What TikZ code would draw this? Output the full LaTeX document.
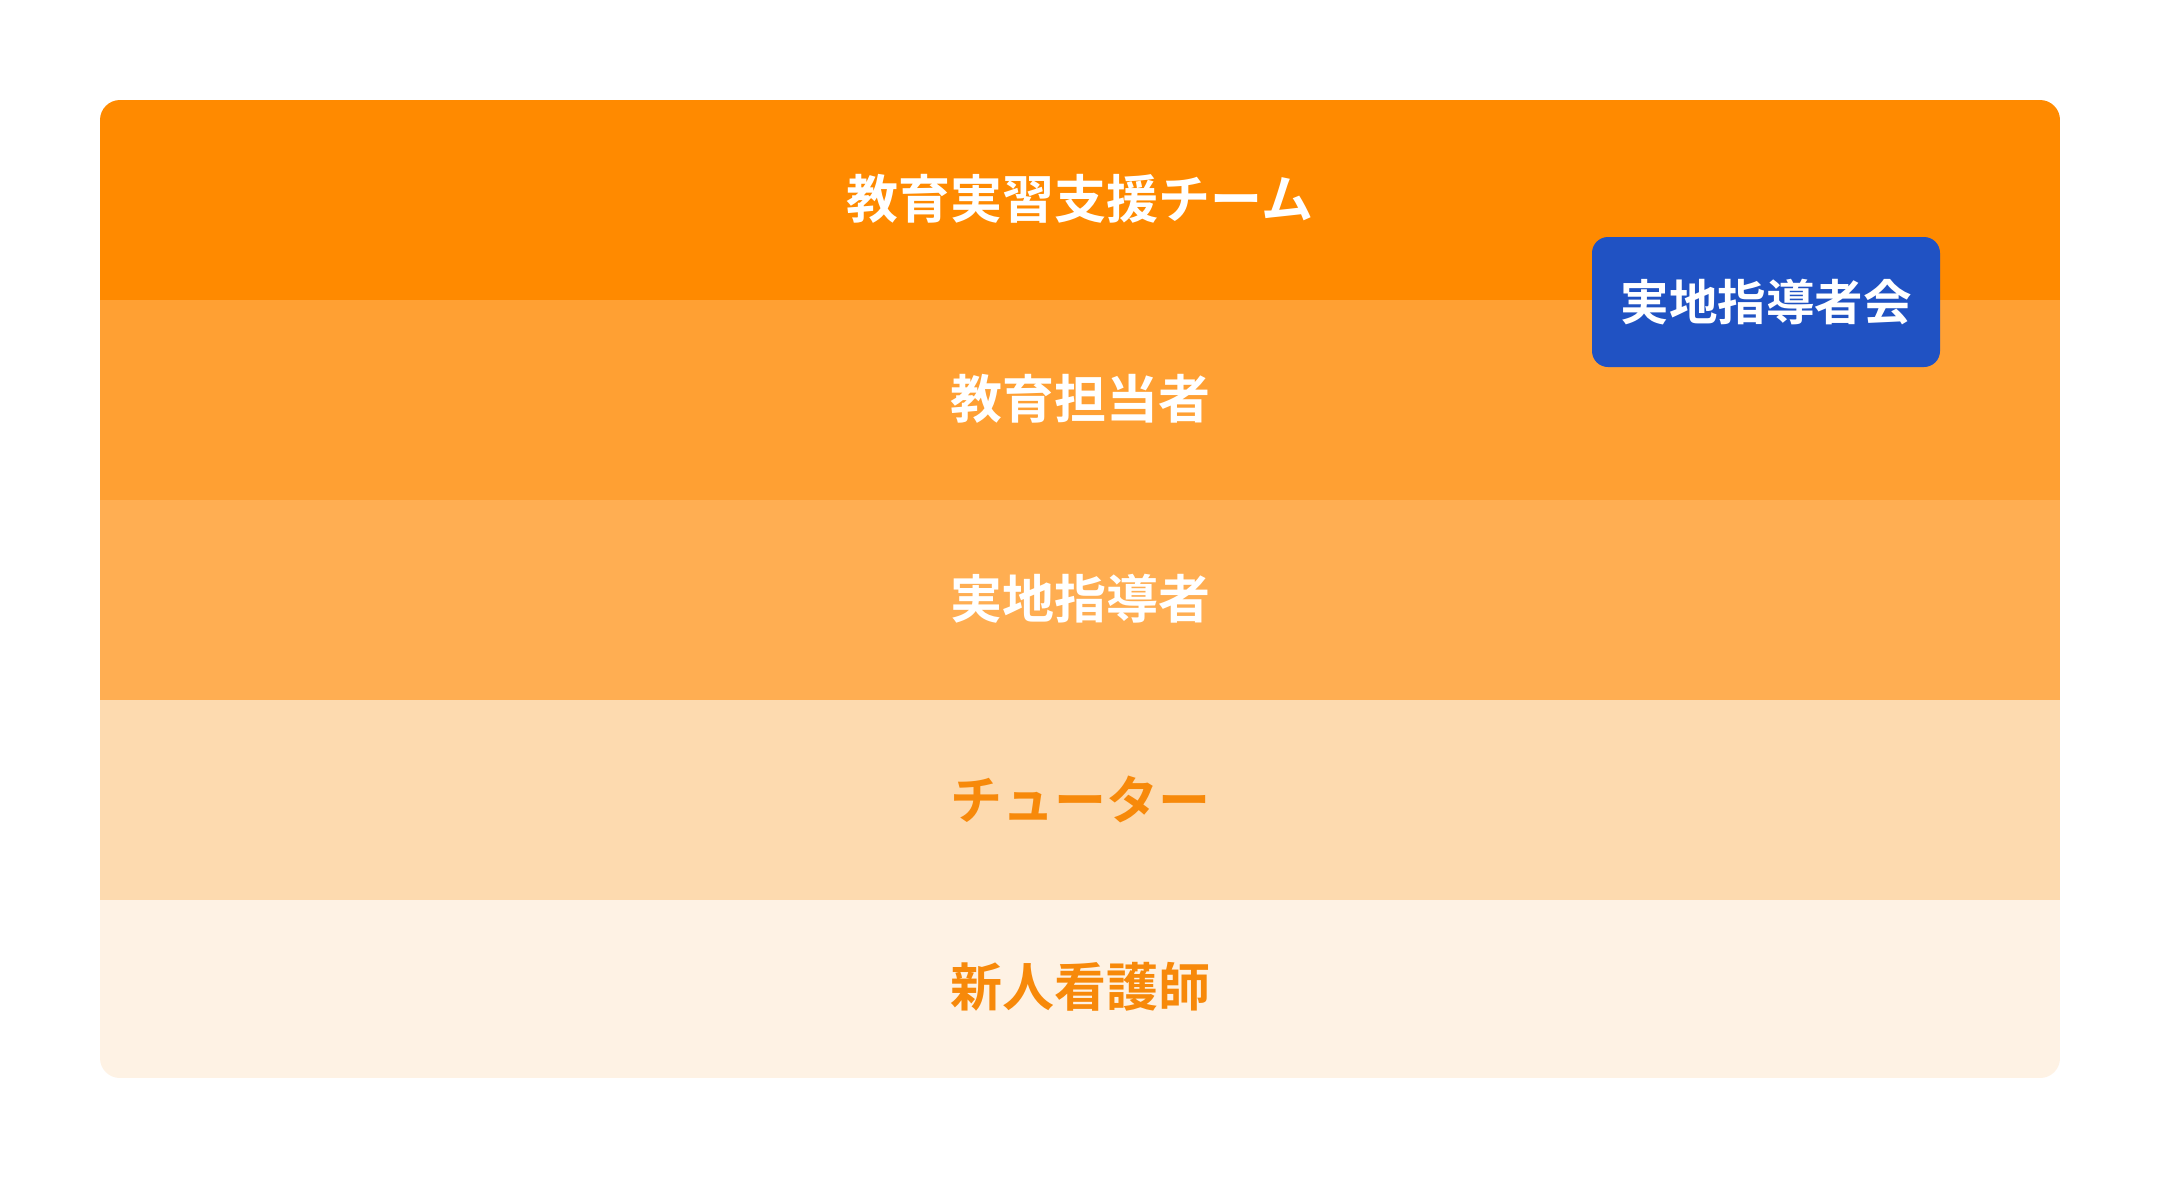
\documentclass[tikz,border=0pt]{standalone}
\usepackage{fontspec}
\newfontfamily\cjk{Noto Sans CJK JP}[BoldFont={Noto Sans CJK JP Bold}]
\definecolor{bandA}{HTML}{FF8A00}
\definecolor{bandB}{HTML}{FFA033}
\definecolor{bandC}{HTML}{FFAE52}
\definecolor{bandD}{HTML}{FDDAAF}
\definecolor{bandE}{HTML}{FEF2E4}
\definecolor{txtorange}{HTML}{F7890A}
\definecolor{meetblue}{HTML}{2052C3}
\begin{document}
\begin{tikzpicture}[x=1pt,y=-1pt,
  lbl/.style={font=\cjk\bfseries\fontsize{52}{58}\selectfont, inner sep=0pt},
  meet/.style={font=\cjk\bfseries\fontsize{48.5}{54}\selectfont, fill=meetblue, text=white,
     rounded corners=16pt, minimum width=348pt, minimum height=130pt, inner sep=0pt}]
\useasboundingbox (0,0) rectangle (2160,1178);
\fill[white] (0,0) rectangle (2160,1178);
\begin{scope}
  \clip[rounded corners=20pt] (100,100) rectangle (2060,1078);
  \fill[bandA] (100,100) rectangle (2060,300);
  \fill[bandB] (100,300) rectangle (2060,500);
  \fill[bandC] (100,500) rectangle (2060,700);
  \fill[bandD] (100,700) rectangle (2060,900);
  \fill[bandE] (100,900) rectangle (2060,1078);
\end{scope}
\node[lbl, text=white] (team) at (1080,199) {教育実習支援チーム};
\node[lbl, text=white] (edu) at (1080,399) {教育担当者};
\node[lbl, text=white] (field) at (1080,599) {実地指導者};
\node[lbl, text=txtorange] (tutor) at (1080,799) {チューター};
\node[lbl, text=txtorange] (nurse) at (1080,987) {新人看護師};
\node[meet] (meeting) at (1766,302) {実地指導者会};
\end{tikzpicture}
\end{document}
